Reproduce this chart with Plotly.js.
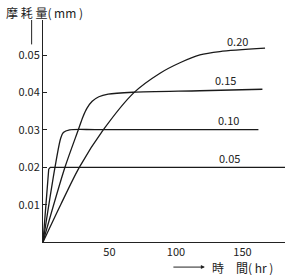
<!DOCTYPE html>
<html><head><meta charset="utf-8">
<script src="https://cdn.plot.ly/plotly-3.0.1.min.js"></script>
<style>html,body{margin:0;padding:0;background:#fff}#c{width:300px;height:275px}</style>
</head><body><div id="c"></div>
<script>
// Wear (mm) vs time (hr) for loads 0.05, 0.10, 0.15, 0.20
const loadLabels = ['0.05', '0.10', '0.15', '0.20'];
const t005 = [0, 4.3, 5.5, 182];
const w005 = [0, 0.0195, 0.0200, 0.0200];
const t010 = [0, 9, 13.3, 15.3, 20, 40, 162];
const w010 = [0, 0.0200, 0.0278, 0.0293, 0.0300, 0.0301, 0.0301];
const t015 = [0, 16.5, 26.5, 30, 33, 37, 42, 49, 67.7, 118, 165];
const w015 = [0, 0.0200, 0.0300, 0.0335, 0.0358, 0.0377, 0.0389, 0.0396, 0.0401, 0.0405, 0.0409];
const t020 = [0, 13.3, 27.3, 45.3, 68.4, 88, 103, 118, 133, 167];
const w020 = [0, 0.0100, 0.0200, 0.0300, 0.0400, 0.0452, 0.0480, 0.0501, 0.0510, 0.0519];
const labelX = [140.6, 139.8, 137.6, 145.9];
const labelY = [0.0225, 0.0327, 0.0434, 0.0538];
const xTicks = [50, 100, 150];
const yTicks = [0.01, 0.02, 0.03, 0.04, 0.05];

const series = [[t005, w005], [t010, w010], [t015, w015], [t020, w020]];
const traces = series.map((s, i) => ({
  x: s[0], y: s[1], mode: 'lines', type: 'scatter',
  line: {color: '#1a1a1a', width: 1.3, shape: i === 0 ? 'linear' : 'spline', smoothing: 0.8},
  hoverinfo: 'skip', showlegend: false
}));

const font = {family: 'Noto Sans CJK JP, Noto Sans, sans-serif', size: 11, color: '#222'};
const tfont = {family: 'Noto Sans CJK JP, Noto Sans, sans-serif', size: 12, color: '#222'};
const annotations = loadLabels.map((lab, i) => ({
  x: labelX[i], y: labelY[i], xref: 'x', yref: 'y', text: lab, showarrow: false, font: font
}));
annotations.push({
  xref: 'paper', yref: 'paper', x: -0.163, y: 1.036, xanchor: 'left', yanchor: 'middle',
  text: '摩 耗 量( mm )', showarrow: false, font: tfont
});
annotations.push({
  xref: 'paper', yref: 'paper', x: 0.69, y: -0.113, xanchor: 'left', yanchor: 'middle',
  text: '時　間( hr )', showarrow: false, font: tfont
});
annotations.push({
  xref: 'paper', yref: 'paper', x: 0.669, y: -0.113, text: '', showarrow: true,
  ax: -33, ay: 0, arrowhead: 2, arrowsize: 0.8, arrowwidth: 1, arrowcolor: '#222'
});

const layout = {
  width: 300, height: 275,
  margin: {l: 43, r: 15, t: 20, b: 33},
  paper_bgcolor: '#fff', plot_bgcolor: '#fff',
  font: font,
  xaxis: {
    range: [0, 182], tickvals: xTicks, ticktext: xTicks.map(String),
    showgrid: false, zeroline: false, showline: true, linecolor: '#222', linewidth: 1,
    ticks: '', tickfont: font, fixedrange: true
  },
  yaxis: {
    range: [0, 0.05945], tickvals: yTicks, ticktext: yTicks.map(v => v.toFixed(2)),
    showgrid: false, zeroline: false, showline: true, linecolor: '#222', linewidth: 1,
    ticks: 'inside', ticklen: 4, tickcolor: '#222', tickfont: font, fixedrange: true
  },
  shapes: [{
    type: 'line', xref: 'paper', yref: 'paper', x0: -0.047, x1: -0.047, y0: 0.89, y1: 1.0,
    line: {color: '#222', width: 1}
  }],
  annotations: annotations
};
Plotly.newPlot('c', traces, layout, {staticPlot: true});
</script></body></html>
